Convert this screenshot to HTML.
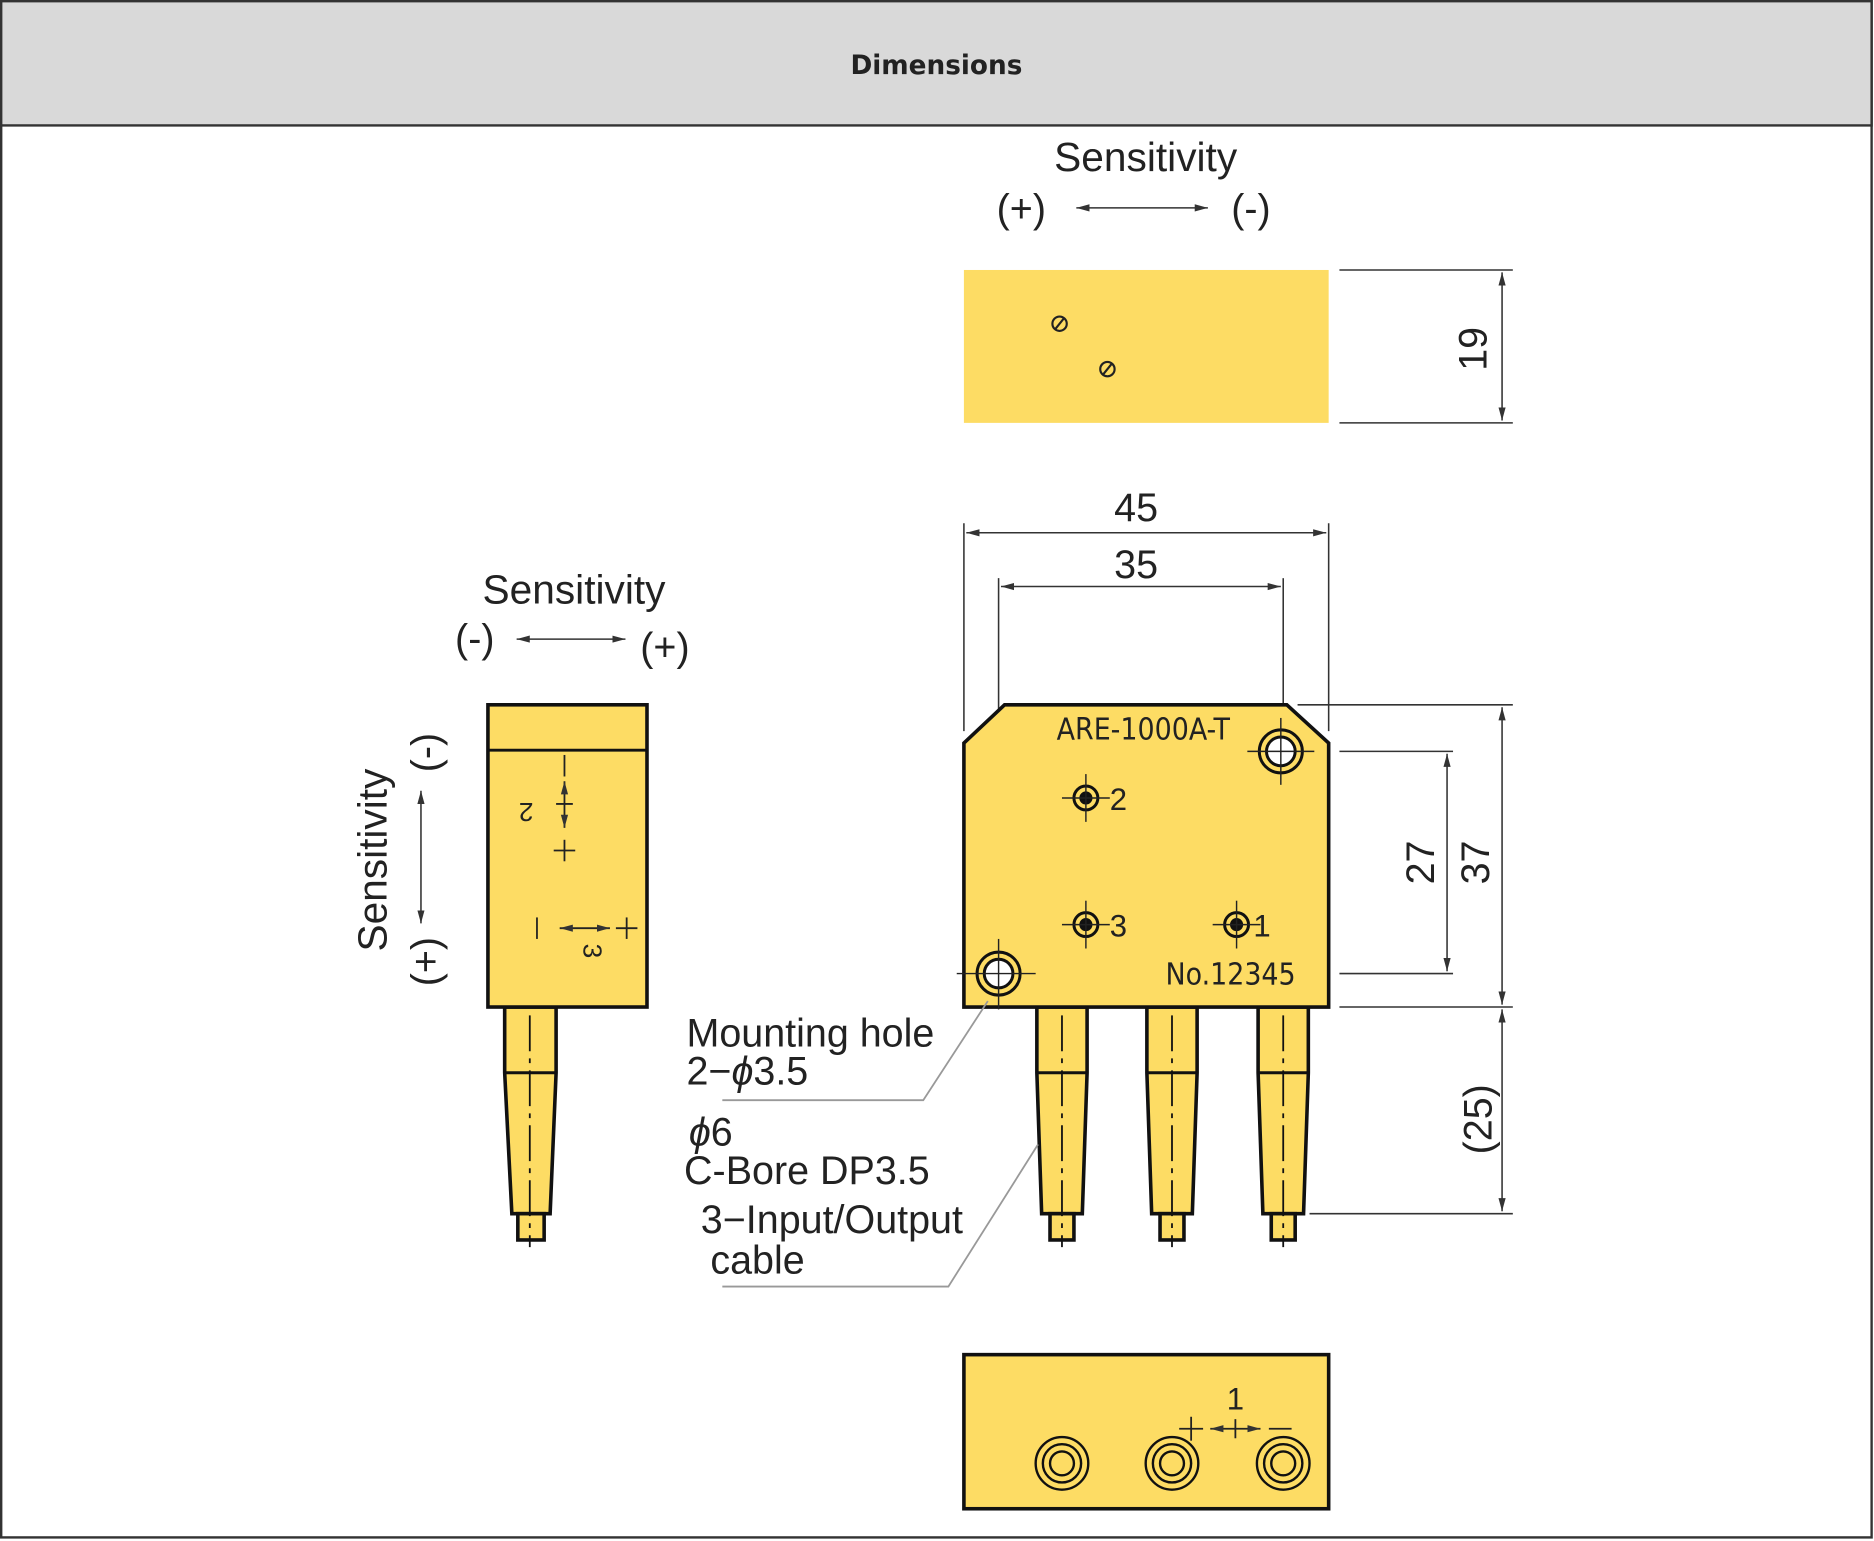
<!DOCTYPE html>
<html><head><meta charset="utf-8"><style>
html,body{margin:0;padding:0;background:#fff}
svg{display:block}
text{font-family:"Liberation Sans",sans-serif;fill:#222}
</style></head><body>
<svg width="1874" height="1541" viewBox="0 0 1567 1290" preserveAspectRatio="none" xmlns="http://www.w3.org/2000/svg">
<defs>
<marker id="a" markerWidth="12" markerHeight="8" refX="11" refY="4" orient="auto-start-reverse" markerUnits="userSpaceOnUse"><path d="M0,1 L11,4 L0,7 Z" fill="#333"/></marker>
</defs>
<rect x="1" y="1" width="1564" height="1286" fill="#fff" stroke="#333" stroke-width="2"/>
<rect x="1" y="1" width="1564" height="104" fill="#d9d9d9" stroke="#333" stroke-width="2"/>
<text x="783" y="62" text-anchor="middle" font-size="22" font-weight="bold" style="font-family:'DejaVu Sans',sans-serif" fill="#111">Dimensions</text>

<g stroke="#333" stroke-width="1.3" fill="none">
<line x1="1120" y1="226" x2="1265" y2="226"/><line x1="1120" y1="354" x2="1265" y2="354"/>
<line x1="1256" y1="228" x2="1256" y2="352" marker-start="url(#a)" marker-end="url(#a)"/>
<line x1="900" y1="174" x2="1010" y2="174" marker-start="url(#a)" marker-end="url(#a)"/>
<line x1="806" y1="438" x2="806" y2="612"/><line x1="1111" y1="438" x2="1111" y2="612"/>
<line x1="808" y1="446" x2="1109" y2="446" marker-start="url(#a)" marker-end="url(#a)"/>
<line x1="835" y1="484" x2="835" y2="830"/><line x1="1073" y1="484" x2="1073" y2="590"/>
<line x1="837" y1="491" x2="1071" y2="491" marker-start="url(#a)" marker-end="url(#a)"/>
<line x1="1120" y1="629" x2="1215" y2="629"/><line x1="1120" y1="815" x2="1215" y2="815"/>
<line x1="1210" y1="631" x2="1210" y2="813" marker-start="url(#a)" marker-end="url(#a)"/>
<line x1="1085" y1="590" x2="1265" y2="590"/><line x1="1120" y1="843" x2="1265" y2="843"/>
<line x1="1256" y1="592" x2="1256" y2="841" marker-start="url(#a)" marker-end="url(#a)"/>
<line x1="1256" y1="845" x2="1256" y2="1014" marker-start="url(#a)" marker-end="url(#a)"/>
<line x1="1095" y1="1016" x2="1265" y2="1016"/>
<line x1="432" y1="535" x2="523" y2="535" marker-start="url(#a)" marker-end="url(#a)"/>
<line x1="352" y1="662" x2="352" y2="773" marker-start="url(#a)" marker-end="url(#a)"/>
</g>

<rect x="806" y="226" width="305" height="128" fill="#fddc64"/>
<g stroke="#222" stroke-width="1.8" fill="none">
<circle cx="886" cy="271" r="6"/><line x1="882" y1="276" x2="890" y2="266"/>
<circle cx="926" cy="309" r="6"/><line x1="922" y1="314" x2="930" y2="304"/>
</g>
<text x="958" y="143" text-anchor="middle" font-size="34">Sensitivity</text>
<text x="854" y="186" text-anchor="middle" font-size="33">(+)</text>
<text x="1046" y="186" text-anchor="middle" font-size="33">(-)</text>
<text transform="translate(1243,292) rotate(-90)" text-anchor="middle" font-size="33">19</text>

<text x="950" y="436" text-anchor="middle" font-size="33">45</text>
<text x="950" y="484" text-anchor="middle" font-size="33">35</text>
<text transform="translate(1199,722) rotate(-90)" text-anchor="middle" font-size="33">27</text>
<text transform="translate(1245,722) rotate(-90)" text-anchor="middle" font-size="33">37</text>
<text transform="translate(1247,937) rotate(-90)" text-anchor="middle" font-size="33">(25)</text>

<g fill="#fddc64" stroke="#111" stroke-width="3">
<path d="M867,843 H909 V898 L905,1016 H871 L867,898 Z"/>
<path d="M959,843 H1001 V898 L997,1016 H963 L959,898 Z"/>
<path d="M1052,843 H1094 V898 L1090,1016 H1056 L1052,898 Z"/>
<path d="M422,843 H465 V898 L460,1016 H428 L422,898 Z"/>
<rect x="878" y="1016" width="20" height="22"/><rect x="970" y="1016" width="20" height="22"/><rect x="1063" y="1016" width="20" height="22"/><rect x="433" y="1016" width="22" height="22"/>
<path d="M806,622 L840,590 H1076 L1111,622 V843 H806 Z"/>
<rect x="408" y="590" width="133" height="253"/>
<rect x="806" y="1134" width="305" height="129"/>
</g>
<g stroke="#111" stroke-width="2.5">
<line x1="867" y1="898" x2="909" y2="898"/><line x1="959" y1="898" x2="1001" y2="898"/><line x1="1052" y1="898" x2="1094" y2="898"/><line x1="422" y1="898" x2="465" y2="898"/>
<line x1="408" y1="628" x2="541" y2="628"/>
</g>
<g stroke="#111" stroke-width="1.5" stroke-dasharray="30,6,4,6">
<line x1="888" y1="850" x2="888" y2="1044"/><line x1="980" y1="850" x2="980" y2="1044"/><line x1="1073" y1="850" x2="1073" y2="1044"/><line x1="443" y1="850" x2="443" y2="1044"/>
</g>
<g stroke="#111" fill="none" stroke-width="2.5">
<circle cx="1071" cy="629" r="18"/><circle cx="1071" cy="629" r="12" fill="#fff"/>
<circle cx="835" cy="815" r="18"/><circle cx="835" cy="815" r="12" fill="#fff"/>
<circle cx="908" cy="668" r="10"/><circle cx="908" cy="774" r="10"/><circle cx="1034" cy="774" r="10"/>
</g>
<g fill="#111"><circle cx="908" cy="668" r="5.5"/><circle cx="908" cy="774" r="5.5"/><circle cx="1034" cy="774" r="5.5"/></g>
<g stroke="#222" stroke-width="1.2">
<line x1="1043" y1="629" x2="1099" y2="629"/><line x1="1071" y1="601" x2="1071" y2="657"/>
<line x1="800" y1="815" x2="866" y2="815"/><line x1="835" y1="786" x2="835" y2="845"/>
<line x1="888" y1="668" x2="928" y2="668"/><line x1="908" y1="648" x2="908" y2="688"/>
<line x1="888" y1="774" x2="928" y2="774"/><line x1="908" y1="754" x2="908" y2="794"/>
<line x1="1014" y1="774" x2="1054" y2="774"/><line x1="1034" y1="754" x2="1034" y2="794"/>
</g>
<g font-size="26" style="font-family:'DejaVu Sans',sans-serif">
<text x="956" y="619" text-anchor="middle" font-size="25" style="font-family:'DejaVu Sans Condensed','DejaVu Sans',sans-serif">ARE-1000A-T</text>
<text x="928" y="678">2</text><text x="928" y="784">3</text><text x="1048" y="784">1</text>
<text x="1029" y="824" text-anchor="middle" font-size="25" style="font-family:'DejaVu Sans Condensed','DejaVu Sans',sans-serif">No.12345</text>
</g>

<text x="480" y="505" text-anchor="middle" font-size="34">Sensitivity</text>
<text x="397" y="546" text-anchor="middle" font-size="33">(-)</text>
<text x="556" y="553" text-anchor="middle" font-size="33">(+)</text>
<text transform="translate(323,720) rotate(-90)" text-anchor="middle" font-size="34">Sensitivity</text>
<text transform="translate(367,805) rotate(-90)" text-anchor="middle" font-size="33">(+)</text>
<text transform="translate(367,630) rotate(-90)" text-anchor="middle" font-size="33">(-)</text>
<g stroke="#222" stroke-width="1.5" fill="none">
<line x1="472" y1="632" x2="472" y2="650"/>
<line x1="472" y1="654" x2="472" y2="693" marker-start="url(#a)" marker-end="url(#a)"/>
<line x1="465" y1="673" x2="479" y2="673"/>
<line x1="463" y1="712" x2="481" y2="712"/><line x1="472" y1="703" x2="472" y2="721"/>
<line x1="449" y1="768" x2="449" y2="786"/>
<line x1="468" y1="777" x2="510" y2="777" marker-start="url(#a)" marker-end="url(#a)"/>
<line x1="515" y1="777" x2="533" y2="777"/><line x1="524" y1="768" x2="524" y2="786"/>
</g>
<text transform="translate(440,672) rotate(180)" text-anchor="middle" font-size="22">2</text>
<text transform="translate(480,796) rotate(90)" text-anchor="middle" font-size="22" dy="-8">3</text>

<g font-size="33">
<text x="574" y="876">Mounting hole</text>
<text x="574" y="908">2−<tspan font-style="italic">ϕ</tspan>3.5</text>
<text x="576" y="959"><tspan font-style="italic">ϕ</tspan>6</text>
<text x="572" y="991">C-Bore DP3.5</text>
<text x="586" y="1032">3−Input/Output</text>
<text x="594" y="1066">cable</text>
</g>
<g stroke="#999" stroke-width="1.5" fill="none">
<polyline points="604,921 772,921 826,838"/>
<polyline points="604,1077 793,1077 868,958"/>
</g>

<g stroke="#111" stroke-width="2" fill="none">
<circle cx="888" cy="1225" r="22"/><circle cx="888" cy="1225" r="16"/><circle cx="888" cy="1225" r="10"/>
<circle cx="980" cy="1225" r="22"/><circle cx="980" cy="1225" r="16"/><circle cx="980" cy="1225" r="10"/>
<circle cx="1073" cy="1225" r="22"/><circle cx="1073" cy="1225" r="16"/><circle cx="1073" cy="1225" r="10"/>
</g>
<g stroke="#222" stroke-width="1.5">
<line x1="986" y1="1196" x2="1006" y2="1196"/><line x1="996" y1="1186" x2="996" y2="1206"/>
<line x1="1012" y1="1196" x2="1054" y2="1196" marker-start="url(#a)" marker-end="url(#a)"/>
<line x1="1033" y1="1188" x2="1033" y2="1204"/>
<line x1="1061" y1="1196" x2="1080" y2="1196"/>
</g>
<text x="1033" y="1180" text-anchor="middle" font-size="26">1</text>
</svg>
</body></html>
